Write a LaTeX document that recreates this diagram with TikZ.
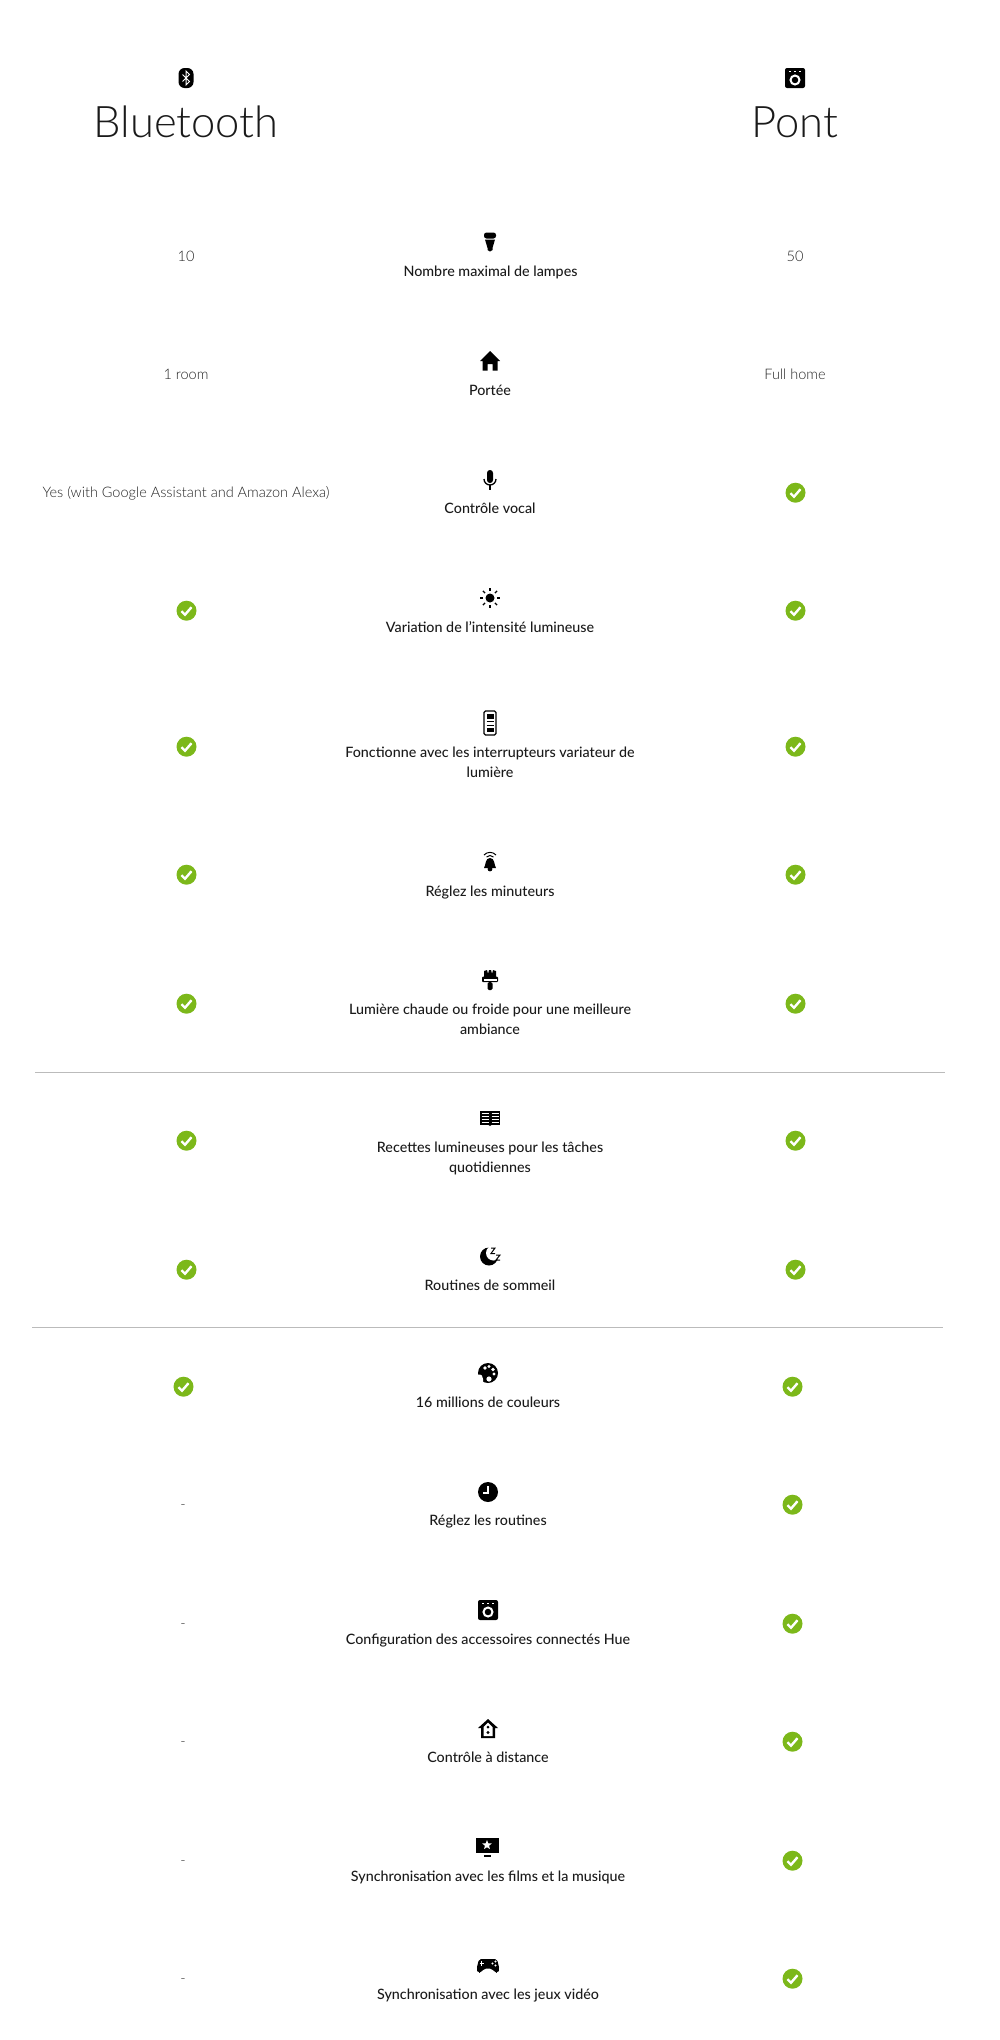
\documentclass[tikz,border=0pt]{standalone}
\usepackage{fontspec}
\setmainfont{Lato}[UprightFont=* Medium]
\newfontfamily\lightfont{Lato Light}
\definecolor{okgreen}{HTML}{7CB81A}
\definecolor{rowgrey}{HTML}{BBBBBB}
\definecolor{inkgrey}{HTML}{1A1A1A}
\definecolor{softgrey}{HTML}{222222}
\tikzset{
  titlelabel/.style={inner sep=0pt,font=\lightfont\fontsize{43.5}{48}\selectfont,text=inkgrey},
  rowlabel/.style={inner sep=0pt,align=center,yshift=-1.5pt,font=\fontsize{14.3}{20}\selectfont,text=inkgrey,
    execute at begin node=\strut,execute at end node=\strut},
  valuelabel/.style={inner sep=0pt,yshift=-1.5pt,font=\lightfont\fontsize{14.5}{20}\selectfont,text=softgrey},
  okmark/.pic={
    \fill[okgreen] (0.5,0.7) circle (10);
    \draw[white,line width=2.4pt] (-4.5,1.2) -- (-1,4.7) -- (5.5,-2.8);
  },
  bluetoothicon/.pic={
    \fill[rounded corners=6] (-7.5,-10) rectangle (7.5,10);
    \draw[white,line width=1pt] (-3.5,-3.5) -- (3.5,3.5) -- (0,7) -- (0,-7) -- (3.5,-3.5) -- (-3.5,3.5);
  },
  bridgeicon/.pic={
    \fill[rounded corners=2] (-10,-10) rectangle (10,10);
    \draw[white,line width=2pt] (0,2) circle (4.5);
    \fill[white] (-5.8,-7.5) rectangle (-4.2,-5.9);
    \fill[white] (-0.8,-7.5) rectangle (0.8,-5.9);
    \fill[white] (4.2,-7.5) rectangle (5.8,-5.9);
  },
  lampicon/.pic={
    \fill[rounded corners=2.5] (-6,-3.5) -- (-6,-9.5) -- (6,-9.5) -- (6,-3.5) -- cycle;
    \fill (-5,-2.5) -- (5,-2.5) -- (2.5,6) -- (2.5,8) -- (0,9.5) -- (-2.5,8) -- (-2.5,6) -- cycle;
  },
  homeicon/.pic={
    \fill (0,-10) -- (10,0) -- (7.5,0) -- (7.5,9.5) -- (2.5,9.5) -- (2.5,3) -- (-2.5,3) -- (-2.5,9.5) -- (-7.5,9.5) -- (-7.5,0) -- (-10,0) -- cycle;
  },
  micicon/.pic={
    \fill[rounded corners=2.9] (-3,-10) rectangle (3,3);
    \draw[line width=1.3pt] (-6,-1) arc[start angle=180,end angle=0,radius=6];
    \draw[line width=1.3pt] (0,5) -- (0,10);
  },
  sunicon/.pic={
    \fill (0,0) circle (4.5);
    \foreach \a in {0,45,...,315}
      \draw[line width=1.3pt] (\a:7) -- (\a:10);
  },
  switchicon/.pic={
    \draw[line width=1.3pt,rounded corners=1.5] (-6,-12) rectangle (6,12);
    \fill (-3.5,-9) rectangle (3.5,-4.5);
    \fill (-3.5,4.5) rectangle (3.5,9);
    \draw[line width=1pt] (-3.5,-2) -- (3.5,-2);
    \draw[line width=1pt] (-3.5,2) -- (3.5,2);
  },
  bellicon/.pic={
    \fill (-6,6) .. controls (-4,3) and (-5,-4) .. (0,-4) .. controls (5,-4) and (4,3) .. (6,6) -- cycle;
    \fill (0,7) circle (2.4);
    \draw[line width=1pt] (-6,-7) .. controls (-3,-10.5) and (3,-10.5) .. (6,-7);
    \draw[line width=1pt] (-3.5,-5) .. controls (-1.5,-7) and (1.5,-7) .. (3.5,-5);
  },
  brushicon/.pic={
    \fill (-6,-3) -- (-6,-9) -- (-3,-10) -- (-2,-6) -- (-1,-10) -- (1,-10) -- (2,-6) -- (3,-10) -- (6,-9) -- (6,-3) -- cycle;
    \fill[rounded corners=1] (-8,-3.5) rectangle (8,2);
    \fill[white] (-6.5,-1) rectangle (6.5,0.5);
    \fill[rounded corners=1.5] (-2.5,2) rectangle (2.5,10);
  },
  bookicon/.pic={
    \fill (-10,-7.5) rectangle (10,6.5);
    \fill (-2,6.5) -- (0,8) -- (2,6.5) -- cycle;
    \draw[white,line width=1pt] (-8.5,-4.5) -- (-1.5,-4.5) (-8.5,-1.5) -- (-1.5,-1.5) (-8.5,1.5) -- (-1.5,1.5) (-8.5,4.5) -- (-1.5,4.5);
    \draw[white,line width=1pt] (1.5,-4.5) -- (8.5,-4.5) (1.5,-1.5) -- (8.5,-1.5) (1.5,1.5) -- (8.5,1.5) (1.5,4.5) -- (8.5,4.5);
  },
  moonicon/.pic={
    \fill (-1,0.5) circle (9);
    \fill[white] (3.5,-3) circle (7.5);
    \draw[line width=1pt] (1,-8) -- (5,-8) -- (1,-2.5) -- (5,-2.5);
    \draw[line width=1pt] (6,-1) -- (10,-1) -- (6,4) -- (10,4);
  },
  paletteicon/.pic={
    \fill (0,0) circle (10);
    \fill[white] (-11,2) .. controls (-6,0) and (-5,4) .. (-5,6) -- (-5,11) -- (-11,11) -- cycle;
    \fill[white] (-3,-5) circle (1.8);
    \fill[white] (1,-6.5) circle (1.7);
    \fill[white] (5,-3.5) circle (1.8);
    \fill[white] (6,1) circle (1.7);
    \fill[white] (1,6) circle (2.6);
  },
  clockicon/.pic={
    \fill (0,0) circle (10);
    \draw[white,line width=1.4pt] (0,-6) -- (0,1) -- (-5,1);
  },
  remoteicon/.pic={
    \fill (0,-10) -- (10,-1) -- (7,-1) -- (7,9) -- (-7,9) -- (-7,-1) -- (-10,-1) -- cycle;
    \fill[white] (-4.5,-2) -- (0,-6.5) -- (4.5,-2) -- (4.5,7) -- (-4.5,7) -- cycle;
    \fill (0,-2) circle (1.5);
    \fill (0,3.5) circle (1.7);
  },
  tvicon/.pic={
    \fill (-11.5,-9) rectangle (11.5,5.5);
    \fill (-3.5,8) rectangle (3.5,9.5);
    \fill[white] (0,-7) -- (1.29,-3.78) -- (4.76,-3.55) -- (2.09,-1.32) -- (2.94,2.05) -- (0,0.2) -- (-2.94,2.05) -- (-2.09,-1.32) -- (-4.76,-3.55) -- (-1.29,-3.78) -- cycle;
  },
  gamepadicon/.pic={
    \fill[rounded corners=2] (-9,-7) -- (9,-7) -- (11.5,3) -- (10,7) -- (7,6.5) -- (4,2.5) -- (-4,2.5) -- (-7,6.5) -- (-10,7) -- (-11.5,3) -- cycle;
    \draw[white,line width=1.2pt] (-8.5,-2.5) -- (-4,-2.5) (-6.25,-4.8) -- (-6.25,-0.2);
    \fill[white] (4.5,-2.5) circle (1.1);
    \fill[white] (7.5,-4.5) circle (1.1);
    \fill[white] (7.5,-0.5) circle (1.1);
  },
}
\begin{document}
\begin{tikzpicture}[x=1pt,y=-1pt]
  \useasboundingbox (0,0) rectangle (1000,2040);
  % column heads
  \pic at (186,78) {bluetoothicon};
  \pic at (795,78) {bridgeicon};
  \node[titlelabel] (bluetooth head) at (186,122) {Bluetooth};
  \node[titlelabel] (pont head) at (795,122) {Pont};
  % rows with values
  \pic at (490,242) {lampicon};
  \node[rowlabel] (lamps label) at (490.5,271) {Nombre maximal de lampes};
  \node[valuelabel] (lamps bt) at (186,255) {10};
  \node[valuelabel] (lamps pont) at (795,255) {50};
  \pic at (490,361) {homeicon};
  \node[rowlabel] (range label) at (490,389.5) {Portée};
  \node[valuelabel] (range bt) at (186,373) {1 room};
  \node[valuelabel] (range pont) at (795,373) {Full home};
  \pic at (490,480) {micicon};
  \node[rowlabel] (voice label) at (490,508) {Contrôle vocal};
  \node[valuelabel] (voice bt) at (186,492) {Yes (with Google Assistant and Amazon Alexa)};
  \pic at (795,492) {okmark};
  % both columns ticked
  \pic at (490,598) {sunicon};
  \node[rowlabel] (dimming label) at (490,626.5) {Variation de l'intensité lumineuse};
  \pic at (186,610) {okmark};
  \pic at (795,610) {okmark};
  \pic at (490,723) {switchicon};
  \node[rowlabel] (switch label) at (490,764) {Fonctionne avec les interrupteurs variateur de\\lumière};
  \pic at (186,746) {okmark};
  \pic at (795,746) {okmark};
  \pic at (490,862) {bellicon};
  \node[rowlabel] (timer label) at (490,890.5) {Réglez les minuteurs};
  \pic at (186,874) {okmark};
  \pic at (795,874) {okmark};
  \pic at (490,980) {brushicon};
  \node[rowlabel] (white label) at (490,1021) {Lumière chaude ou froide pour une meilleure\\ambiance};
  \pic at (186,1003) {okmark};
  \pic at (795,1003) {okmark};
  \coordinate (rule one left) at (35,1072);
  \coordinate (rule one right) at (945,1072);
  \draw[rowgrey] (rule one left) -- (rule one right);
  \pic at (490,1118) {bookicon};
  \node[rowlabel] (recipes label) at (490,1159) {Recettes lumineuses pour les tâches\\quotidiennes};
  \pic at (186,1140) {okmark};
  \pic at (795,1140) {okmark};
  \pic at (490,1256) {moonicon};
  \node[rowlabel] (sleep label) at (490,1284.5) {Routines de sommeil};
  \pic at (186,1269) {okmark};
  \pic at (795,1269) {okmark};
  \coordinate (rule two left) at (32,1327);
  \coordinate (rule two right) at (943,1327);
  \draw[rowgrey] (rule two left) -- (rule two right);
  \pic at (488,1373) {paletteicon};
  \node[rowlabel] (colours label) at (488,1401.5) {16 millions de couleurs};
  \pic at (183,1386) {okmark};
  \pic at (792,1386) {okmark};
  % bridge only
  \pic at (488,1492) {clockicon};
  \node[rowlabel] (routines label) at (488,1519.5) {Réglez les routines};
  \node[valuelabel] (routines bt) at (183,1506) {-};
  \pic at (792,1504) {okmark};
  \pic at (488,1610) {bridgeicon};
  \node[rowlabel] (accessories label) at (488,1638.5) {Configuration des accessoires connectés Hue};
  \node[valuelabel] (accessories bt) at (183,1625) {-};
  \pic at (792,1623) {okmark};
  \pic at (488,1729) {remoteicon};
  \node[rowlabel] (remote label) at (488,1756.5) {Contrôle à distance};
  \node[valuelabel] (remote bt) at (183,1743) {-};
  \pic at (792,1741) {okmark};
  \pic at (487,1847) {tvicon};
  \node[rowlabel] (films label) at (488,1875.5) {Synchronisation avec les films et la musique};
  \node[valuelabel] (films bt) at (183,1862) {-};
  \pic at (792,1860) {okmark};
  \pic at (488,1966) {gamepadicon};
  \node[rowlabel] (games label) at (488,1993.5) {Synchronisation avec les jeux vidéo};
  \node[valuelabel] (games bt) at (183,1980) {-};
  \pic at (792,1978) {okmark};
\end{tikzpicture}
\end{document}
